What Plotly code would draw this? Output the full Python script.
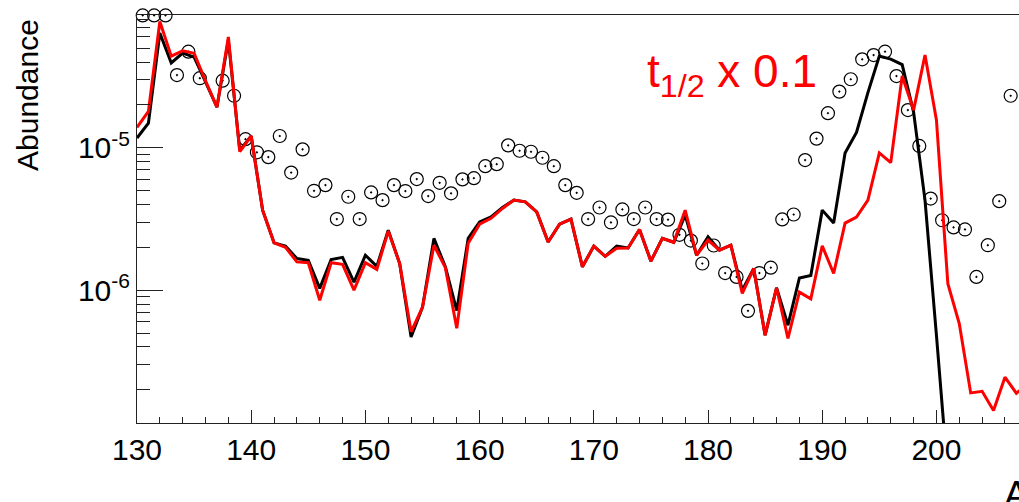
import plotly.graph_objects as go

# ---- data ----
mass_black = list(range(130, 202))
abund_black = [
    1.17e-5, 1.49e-5, 6.4e-5, 3.94e-5, 4.63e-5, 4.33e-5, 2.9e-5, 1.93e-5, 5.71e-5, 9.6e-6,
    1.21e-5, 3.65e-6, 2.15e-6, 2.04e-6, 1.67e-6, 1.62e-6, 1.03e-6, 1.64e-6, 1.70e-6, 1.14e-6,
    1.76e-6, 1.47e-6, 2.64e-6, 1.54e-6, 4.7e-7, 7.6e-7, 2.31e-6, 1.46e-6, 7.2e-7, 2.31e-6,
    3.02e-6, 3.27e-6, 3.81e-6, 4.29e-6, 4.17e-6, 3.55e-6, 2.18e-6, 2.91e-6, 3.16e-6, 1.46e-6,
    2.04e-6, 1.73e-6, 2.04e-6, 1.98e-6, 2.67e-6, 1.6e-6, 2.31e-6, 2.17e-6, 3.37e-6, 1.76e-6,
    2.37e-6, 1.91e-6, 2.07e-6, 1.0e-6, 1.42e-6, 4.83e-7, 1.04e-6, 5.68e-7, 1.22e-6, 1.27e-6,
    3.65e-6, 2.96e-6, 9.2e-6, 1.28e-5, 2.44e-5, 4.41e-5, 4.2e-5, 3.84e-5, 1.78e-5, 4.29e-6,
    4.83e-7, 5e-8,
]

mass_red = list(range(130, 209))
abund_red = [
    1.39e-5, 1.8e-5, 7.7e-5, 4.4e-5, 4.8e-5, 4.6e-5, 2.95e-5, 1.93e-5, 6.0e-5, 9.4e-6,
    1.21e-5, 3.65e-6, 2.15e-6, 2.0e-6, 1.58e-6, 1.56e-6, 8.5e-7, 1.56e-6, 1.52e-6, 1.0e-6,
    1.56e-6, 1.40e-6, 2.6e-6, 1.54e-6, 5.1e-7, 7.6e-7, 2.07e-6, 1.44e-6, 5.4e-7, 2.14e-6,
    2.91e-6, 3.2e-6, 3.75e-6, 4.29e-6, 4.17e-6, 3.55e-6, 2.18e-6, 2.91e-6, 3.16e-6, 1.46e-6,
    2.04e-6, 1.73e-6, 1.97e-6, 1.98e-6, 2.67e-6, 1.6e-6, 2.31e-6, 2.17e-6, 3.65e-6, 1.76e-6,
    2.25e-6, 1.91e-6, 2.07e-6, 9.5e-7, 1.42e-6, 4.83e-7, 1.04e-6, 4.58e-7, 9.7e-7, 8.7e-7,
    2.05e-6, 1.31e-6, 2.96e-6, 3.26e-6, 4.29e-6, 9.2e-6, 7.87e-6, 3.19e-5, 1.84e-5, 4.48e-5,
    1.57e-5, 1.11e-6, 5.83e-7, 1.9e-7, 1.95e-7, 1.43e-7, 2.45e-7, 1.89e-7, 2.2e-7,
]

mass_solar = [130, 131, 132, 133, 134, 135, 137, 138, 139, 140, 141, 142, 143, 144, 145,
              146, 147, 148, 149, 150, 151, 152, 153, 154, 155, 156, 157, 158, 159, 160,
              161, 162, 163, 164, 165, 166, 167, 168, 169, 170, 171, 172, 173, 174, 175,
              176, 177, 178, 179, 180, 181, 182, 183, 184, 185, 186, 187, 188, 189, 190,
              191, 192, 193, 194, 195, 196, 197, 198, 199, 200, 201, 202, 203, 204, 205,
              206, 207]
abund_solar = [8.5e-5, 8.5e-5, 8.5e-5, 3.24e-5, 4.73e-5, 3.08e-5, 2.96e-5, 2.32e-5, 1.15e-5, 9.3e-6,
               8.6e-6, 1.21e-5, 6.7e-6, 9.75e-6, 4.99e-6, 5.47e-6, 3.16e-6, 4.53e-6, 3.16e-6, 4.86e-6,
               4.29e-6, 5.47e-6, 4.97e-6, 6.03e-6, 4.58e-6, 5.68e-6, 4.79e-6, 6.0e-6, 6.12e-6, 7.43e-6,
               7.67e-6, 1.04e-5, 9.53e-6, 9.38e-6, 8.51e-6, 7.43e-6, 5.47e-6, 4.83e-6, 3.16e-6, 3.81e-6,
               2.99e-6, 3.69e-6, 3.16e-6, 3.81e-6, 3.16e-6, 3.13e-6, 2.45e-6, 2.23e-6, 1.54e-6, 2.06e-6,
               1.32e-6, 1.24e-6, 7.16e-7, 1.32e-6, 1.44e-6, 3.14e-6, 3.4e-6, 8.2e-6, 1.16e-5, 1.75e-5,
               2.48e-5, 3.03e-5, 4.18e-5, 4.48e-5, 4.73e-5, 3.19e-5, 1.84e-5, 1.03e-5, 4.4e-6, 3.1e-6,
               2.76e-6, 2.67e-6, 1.24e-6, 2.07e-6, 4.22e-6, 2.32e-5, 2.85e-5]

x_tick_vals = [130, 140, 150, 160, 170, 180, 190, 200]
y_tick_vals = [1e-6, 1e-5]
y_tick_text = ["10<sup>-6</sup>", "10<sup>-5</sup>"]
y_minor_vals = [m * 10.0 ** e for e in (-7, -6, -5) for m in range(2, 10)]

FONT = "Liberation Sans, Arial, sans-serif"

fig = go.Figure()
fig.add_trace(go.Scatter(
    x=[a + 0.5 for a in mass_solar], y=abund_solar, mode="markers",
    marker=dict(symbol="circle-open-dot", size=13, color="black", line=dict(width=1.2, color="black")),
    cliponaxis=False, showlegend=False))
fig.add_trace(go.Scatter(x=mass_black, y=abund_black, mode="lines",
                         line=dict(color="black", width=3), showlegend=False))
fig.add_trace(go.Scatter(x=mass_red, y=abund_red, mode="lines",
                         line=dict(color="#ff0000", width=3), showlegend=False))

fig.update_layout(
    width=1019, height=502,
    margin=dict(l=137, r=0, t=15, b=79, pad=0),
    plot_bgcolor="white", paper_bgcolor="white",
    font=dict(family=FONT, size=30, color="black"),
    xaxis=dict(
        range=[130, 207.23], showline=True, linecolor="#222", linewidth=1, mirror=True,
        showgrid=False, zeroline=False,
        tickmode="array", tickvals=x_tick_vals, ticks="inside", ticklen=13, tickcolor="#222",
        tickfont=dict(size=30),
        minor=dict(ticks="inside", ticklen=6, tickcolor="#222", dtick=2, tick0=130),
    ),
    yaxis=dict(
        type="log", range=[-6.9325, -4.0675], showline=True, linecolor="#222", linewidth=1,
        showgrid=False, zeroline=False,
        tickmode="array", tickvals=y_tick_vals, ticktext=y_tick_text,
        ticks="inside", ticklen=26, tickcolor="#222", tickfont=dict(size=30),
        minor=dict(ticks="inside", ticklen=13, tickcolor="#222", tickmode="array", tickvals=y_minor_vals),
    ),
    annotations=[
        dict(text="Abundance", xref="paper", yref="paper", x=-0.1236, y=0.804,
             textangle=-90, showarrow=False, xanchor="center", yanchor="middle",
             font=dict(size=30, family=FONT)),
        dict(text="t<sub>1/2</sub> x 0.1", xref="paper", yref="paper", x=0.576, y=0.853,
             showarrow=False, xanchor="left", yanchor="middle",
             font=dict(size=46, color="#ff0000", family=FONT)),
        dict(text="A", xref="paper", yref="paper", x=0.981, y=-0.12,
             showarrow=False, xanchor="left", yanchor="top",
             font=dict(size=37, family=FONT)),
    ],
)

fig.write_html("out.html")
